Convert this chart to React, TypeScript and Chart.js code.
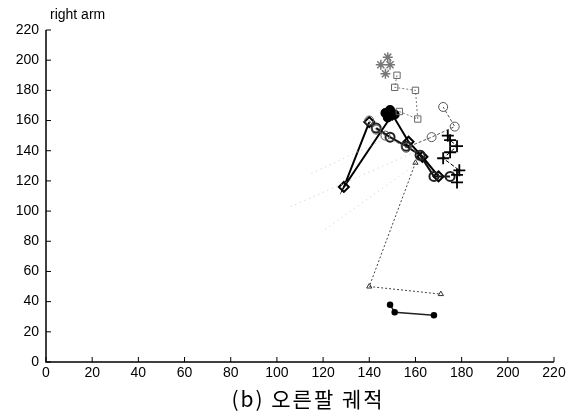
import React, { useEffect, useRef } from "react";
import { Chart, registerables } from "chart.js";
Chart.register(...registerables);

const xTicks = [0, 20, 40, 60, 80, 100, 120, 140, 160, 180, 200, 220];
const yTicks = [0, 20, 40, 60, 80, 100, 120, 140, 160, 180, 200, 220];

const diamondX = [140, 129, 150, 157, 163, 170];
const diamondY = [159, 116, 164, 146, 136, 123];

const blackCircleX = [143, 149, 156, 162, 168, 175];
const blackCircleY = [155, 149, 143, 137, 123, 123];

const plusX = [174, 175, 178, 175, 172, 179, 178, 178];
const plusY = [150, 147, 143, 139, 135, 127, 124, 119];

const squareX = [152, 151, 160, 161, 153];
const squareY = [190, 182, 180, 161, 166];

const asteriskX = [148, 145, 149, 147];
const asteriskY = [202, 197, 197, 191];

const grayCircleX = [140, 143, 147, 156, 167, 177, 172];
const grayCircleY = [160, 154, 150, 142, 149, 156, 169];

const triangleX = [160, 140, 171];
const triangleY = [132, 50, 45];

const dotX = [149, 151, 168];
const dotY = [38, 33, 31];

const filledX = [147, 149, 151, 148];
const filledY = [165, 167, 164, 162];

const faintAX = [106, 161];
const faintAY = [103, 140];
const faintBX = [121, 162];
const faintBY = [88, 133];
const faintCX = [115, 150];
const faintCY = [125, 150];

const pts = (xs: number[], ys: number[]) => xs.map((x, i) => ({ x, y: ys[i] }));

const decorPlugin = {
  id: "decor",
  afterDraw(chart: any) {
    const { ctx, chartArea, scales } = chart;
    const xs = scales.x;
    const ys = scales.y;
    ctx.save();
    ctx.strokeStyle = "#000";
    ctx.lineWidth = 1.5;
    ctx.beginPath();
    ctx.moveTo(chartArea.left, chartArea.top);
    ctx.lineTo(chartArea.left, chartArea.bottom);
    ctx.lineTo(chartArea.right, chartArea.bottom);
    ctx.stroke();
    ctx.lineWidth = 1;
    ctx.beginPath();
    xTicks.forEach((v) => {
      const p = xs.getPixelForValue(v);
      ctx.moveTo(p, chartArea.bottom);
      ctx.lineTo(p, chartArea.bottom - 5);
    });
    yTicks.forEach((v) => {
      const p = ys.getPixelForValue(v);
      ctx.moveTo(chartArea.left, p);
      ctx.lineTo(chartArea.left + 5, p);
    });
    ctx.stroke();
    ctx.fillStyle = "#000";
    ctx.font = "14px 'Liberation Sans', Arial, sans-serif";
    ctx.textAlign = "left";
    ctx.textBaseline = "middle";
    ctx.fillText("right arm", 50, 15);
    ctx.font = "21px 'Noto Sans CJK KR', sans-serif";
    (ctx as any).letterSpacing = "2px";
    ctx.textAlign = "center";
    ctx.fillText("(b) 오른팔 궤적", 308, 399);
    ctx.restore();
  },
};

export default function App() {
  const ref = useRef<HTMLCanvasElement>(null);
  useEffect(() => {
    document.body.style.margin = "0";
    const hollow = "rgba(0,0,0,0)";
    const tickFont = { family: "'Liberation Sans', Arial, sans-serif", size: 14 };
    const chart = new Chart(ref.current!, {
      type: "scatter",
      data: {
        datasets: [
          { data: pts(faintAX, faintAY), showLine: true, borderColor: "#c8c8c8", borderWidth: 1, borderDash: [1, 4], pointRadius: 0 },
          { data: pts(faintBX, faintBY), showLine: true, borderColor: "#c8c8c8", borderWidth: 1, borderDash: [1, 4], pointRadius: 0 },
          { data: pts(faintCX, faintCY), showLine: true, borderColor: "#c8c8c8", borderWidth: 1, borderDash: [1, 4], pointRadius: 0 },
          { data: pts(triangleX, triangleY), showLine: true, borderColor: "#444", borderWidth: 1, borderDash: [2, 2], pointStyle: "triangle", pointRadius: 3, pointBorderColor: "#333", pointBackgroundColor: hollow },
          { data: pts(dotX, dotY), showLine: true, borderColor: "#222", borderWidth: 1.5, pointStyle: "circle", pointRadius: 2.5, pointBorderColor: "#000", pointBackgroundColor: "#000" },
          { data: pts(asteriskX, asteriskY), showLine: true, borderColor: "#bbb", borderWidth: 1, borderDash: [1, 3], pointStyle: "star", pointRadius: 5, pointBorderColor: "#777", pointBorderWidth: 1.5, pointBackgroundColor: hollow },
          { data: pts(squareX, squareY), showLine: true, borderColor: "#777", borderWidth: 1, borderDash: [2, 2], pointStyle: "rect", pointRadius: 4.5, pointBorderColor: "#666", pointBackgroundColor: hollow },
          { data: pts(grayCircleX, grayCircleY), showLine: true, borderColor: "#555", borderWidth: 1, borderDash: [3, 2], pointStyle: "circle", pointRadius: 4.5, pointBorderColor: "#555", pointBackgroundColor: hollow },
          { data: pts(plusX, plusY), showLine: true, borderColor: "#000", borderWidth: 1, borderDash: [4, 2], pointStyle: "cross", pointRadius: 6, pointBorderColor: "#000", pointBorderWidth: 1.8 },
          { data: pts(blackCircleX, blackCircleY), showLine: true, borderColor: "#111", borderWidth: 2, pointStyle: "circle", pointRadius: 4.5, pointBorderColor: "#222", pointBackgroundColor: hollow },
          { data: pts(diamondX, diamondY), showLine: true, borderColor: "#000", borderWidth: 2, pointStyle: "rectRot", pointRadius: 5, pointBorderColor: "#000", pointBackgroundColor: hollow },
          { data: pts(filledX, filledY), showLine: true, borderColor: "#000", borderWidth: 2, pointStyle: "circle", pointRadius: 4, pointBorderColor: "#000", pointBackgroundColor: "#000" },
        ],
      },
      options: {
        responsive: false,
        animation: false,
        layout: { padding: { top: 30, right: 19, left: 0, bottom: 0 } },
        plugins: { legend: { display: false }, tooltip: { enabled: false }, title: { display: false } },
        scales: {
          x: {
            type: "linear",
            min: 0,
            max: 220,
            afterFit: (s: any) => { s.height = 49; },
            afterBuildTicks: (s: any) => { s.ticks = xTicks.map((v) => ({ value: v })); },
            grid: { display: false, drawTicks: false },
            border: { display: false },
            ticks: { color: "#000", padding: 3, font: tickFont, maxRotation: 0 },
          },
          y: {
            type: "linear",
            min: 0,
            max: 220,
            afterFit: (s: any) => { s.width = 46; },
            afterBuildTicks: (s: any) => { s.ticks = yTicks.map((v) => ({ value: v })); },
            grid: { display: false, drawTicks: false },
            border: { display: false },
            ticks: { color: "#000", padding: 7, font: tickFont },
          },
        },
      },
      plugins: [decorPlugin],
    } as any);
    return () => chart.destroy();
  }, []);
  return (
    <div style={{ position: "relative", width: 573, height: 411 }}>
      <canvas ref={ref} width={573} height={411} style={{ width: 573, height: 411, display: "block" }} />
    </div>
  );
}
